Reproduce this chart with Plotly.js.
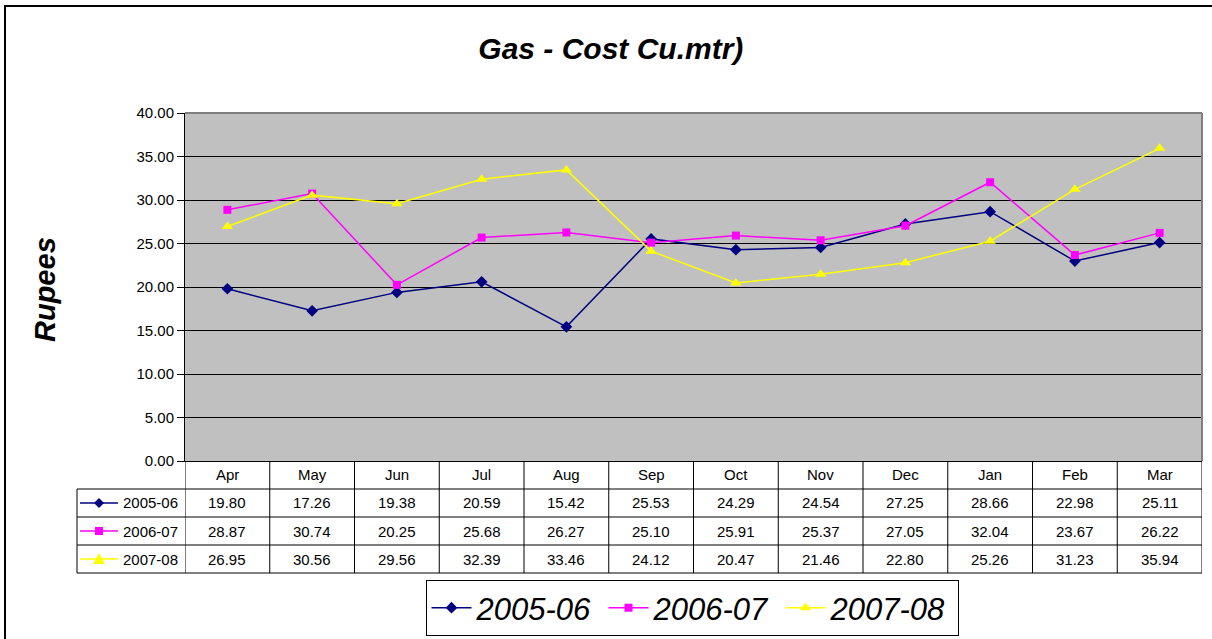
<!DOCTYPE html>
<html>
<head>
<meta charset="utf-8">
<script src="https://cdn.plot.ly/plotly-3.0.1.min.js"></script>
<style>html,body{margin:0;padding:0;background:#fff;}#chart{width:1212px;height:639px;}</style>
</head>
<body>
<div id="chart"></div>
<script>
const months = ["Apr","May","Jun","Jul","Aug","Sep","Oct","Nov","Dec","Jan","Feb","Mar"];
const seriesNames = ["2005-06","2006-07","2007-08"];
const s2005 = [19.80,17.26,19.38,20.59,15.42,25.53,24.29,24.54,27.25,28.66,22.98,25.11];
const s2006 = [28.87,30.74,20.25,25.68,26.27,25.10,25.91,25.37,27.05,32.04,23.67,26.22];
const s2007 = [26.95,30.56,29.56,32.39,33.46,24.12,20.47,21.46,22.80,25.26,31.23,35.94];
const yTicks = [0,5,10,15,20,25,30,35,40];

const W = 1212, H = 639;
const PL = 185, PR = 1202, PT = 113, PB = 461;
const PW = PR - PL, PH = PB - PT;
const px = v => (v - PL) / PW;
const py = v => (PB - v) / PH;

const FONT = "Liberation Sans, Arial, sans-serif";
const colors = ["#000080", "#FF00FF", "#FFFF00"];
const symbols = ["diamond", "square", "triangle-up"];
const msizes = [9, 8, 10];
const allSeries = [s2005, s2006, s2007];

const traces = allSeries.map((s, i) => ({
  type: "scatter", mode: "lines+markers", name: seriesNames[i],
  x: months, y: s,
  line: {color: colors[i], width: 1.5},
  marker: {color: colors[i], symbol: symbols[i], size: msizes[i], line: {width: 0}}
}));

const rowY = [461, 489, 517, 545, 573];
const shapes = [];
const annotations = [];

// outer border
shapes.push({type: "rect", xref: "paper", yref: "paper", x0: px(5), x1: px(1300), y0: py(6), y1: py(700),
  line: {color: "#000", width: 2}, fillcolor: "rgba(0,0,0,0)"});
// plot top & right gray border
shapes.push({type: "line", xref: "paper", yref: "paper", x0: 0, x1: 1, y0: 1, y1: 1, line: {color: "#808080", width: 2}});
shapes.push({type: "line", xref: "paper", yref: "paper", x0: 1, x1: 1, y0: 0, y1: 1, line: {color: "#808080", width: 2}});

// table vertical lines
for (let i = 0; i <= months.length; i++) {
  shapes.push({type: "line", xref: "x", yref: "paper", x0: i - 0.5, x1: i - 0.5, y0: py(rowY[0]), y1: py(rowY[4]),
    line: {color: "#000", width: 1}});
}
shapes.push({type: "line", xref: "paper", yref: "paper", x0: px(77), x1: px(77), y0: py(rowY[1]), y1: py(rowY[4]),
  line: {color: "#000", width: 1}});
// table horizontal lines
for (let r = 1; r <= 4; r++) {
  shapes.push({type: "line", xref: "paper", yref: "paper", x0: px(77), x1: 1, y0: py(rowY[r]), y1: py(rowY[r]),
    line: {color: "#000", width: 1}});
}

// header months
months.forEach((m, i) => {
  annotations.push({xref: "x", yref: "paper", x: m, y: py((rowY[0] + rowY[1]) / 2), text: m, showarrow: false,
    xanchor: "center", yanchor: "middle", font: {family: FONT, size: 15, color: "#000"}});
});
// values
allSeries.forEach((s, r) => {
  const cy = (rowY[r + 1] + rowY[r + 2]) / 2;
  s.forEach((v, i) => {
    annotations.push({xref: "x", yref: "paper", x: months[i], y: py(cy), text: v.toFixed(2), showarrow: false,
      xanchor: "center", yanchor: "middle", font: {family: FONT, size: 15, color: "#000"}});
  });
  annotations.push({xref: "paper", yref: "paper", x: px(121), y: py(cy), text: seriesNames[r], showarrow: false,
    xanchor: "left", yanchor: "middle", font: {family: FONT, size: 15, color: "#000"}});
  // key line
  shapes.push({type: "line", xref: "paper", yref: "paper", x0: px(80), x1: px(118), y0: py(cy), y1: py(cy),
    line: {color: colors[r], width: 1.5}});
  // key marker
  const cx = 99;
  let path;
  if (r === 0) {
    path = `M${px(cx)},${py(cy - 5)} L${px(cx + 5)},${py(cy)} L${px(cx)},${py(cy + 5)} L${px(cx - 5)},${py(cy)} Z`;
  } else if (r === 1) {
    path = `M${px(cx - 4)},${py(cy - 4)} L${px(cx + 4)},${py(cy - 4)} L${px(cx + 4)},${py(cy + 4)} L${px(cx - 4)},${py(cy + 4)} Z`;
  } else {
    path = `M${px(cx)},${py(cy - 6)} L${px(cx + 6)},${py(cy + 5)} L${px(cx - 6)},${py(cy + 5)} Z`;
  }
  shapes.push({type: "path", xref: "paper", yref: "paper", path: path, fillcolor: colors[r], line: {width: 0}});
});

// y axis title
annotations.push({xref: "paper", yref: "paper", x: px(45), y: py(290), text: "<b><i>Rupees</i></b>", textangle: -90,
  showarrow: false, xanchor: "center", yanchor: "middle", font: {family: FONT, size: 29, color: "#000"}});

const layout = {
  width: W, height: H, autosize: false,
  margin: {l: PL, r: W - PR, t: PT, b: H - PB, pad: 0, autoexpand: false},
  paper_bgcolor: "#fff", plot_bgcolor: "#C0C0C0",
  font: {family: FONT, size: 15, color: "#000"},
  title: {text: "<b><i>Gas - Cost Cu.mtr)</i></b>", x: 0.504, xref: "container", xanchor: "center",
    y: 1 - 48 / H, yref: "container", yanchor: "middle", font: {family: FONT, size: 30, color: "#000"}},
  xaxis: {type: "category", range: [-0.5, 11.5], showticklabels: false, ticks: "", showgrid: false,
    showline: true, linecolor: "#000", linewidth: 1, zeroline: false, fixedrange: true},
  yaxis: {range: [0, 40], tickvals: yTicks, ticktext: yTicks.map(v => v.toFixed(2)), ticks: "outside", ticklen: 7,
    tickcolor: "#000", showgrid: true, gridcolor: "#000", gridwidth: 1, showline: true, linecolor: "#000",
    linewidth: 1, zeroline: false, tickfont: {family: FONT, size: 15, color: "#000"}, fixedrange: true},
  showlegend: true,
  legend: {orientation: "h", x: px(692), xanchor: "center", y: py(580), yanchor: "top",
    bordercolor: "#000", borderwidth: 1, bgcolor: "#fff",
    font: {family: FONT, size: 31, color: "#000", style: "italic"}, itemwidth: 40,
    entrywidth: 122, entrywidthmode: "pixels", traceorder: "normal"},
  shapes: shapes, annotations: annotations
};

Plotly.newPlot("chart", traces, layout, {displayModeBar: false, staticPlot: true});
</script>
</body>
</html>
